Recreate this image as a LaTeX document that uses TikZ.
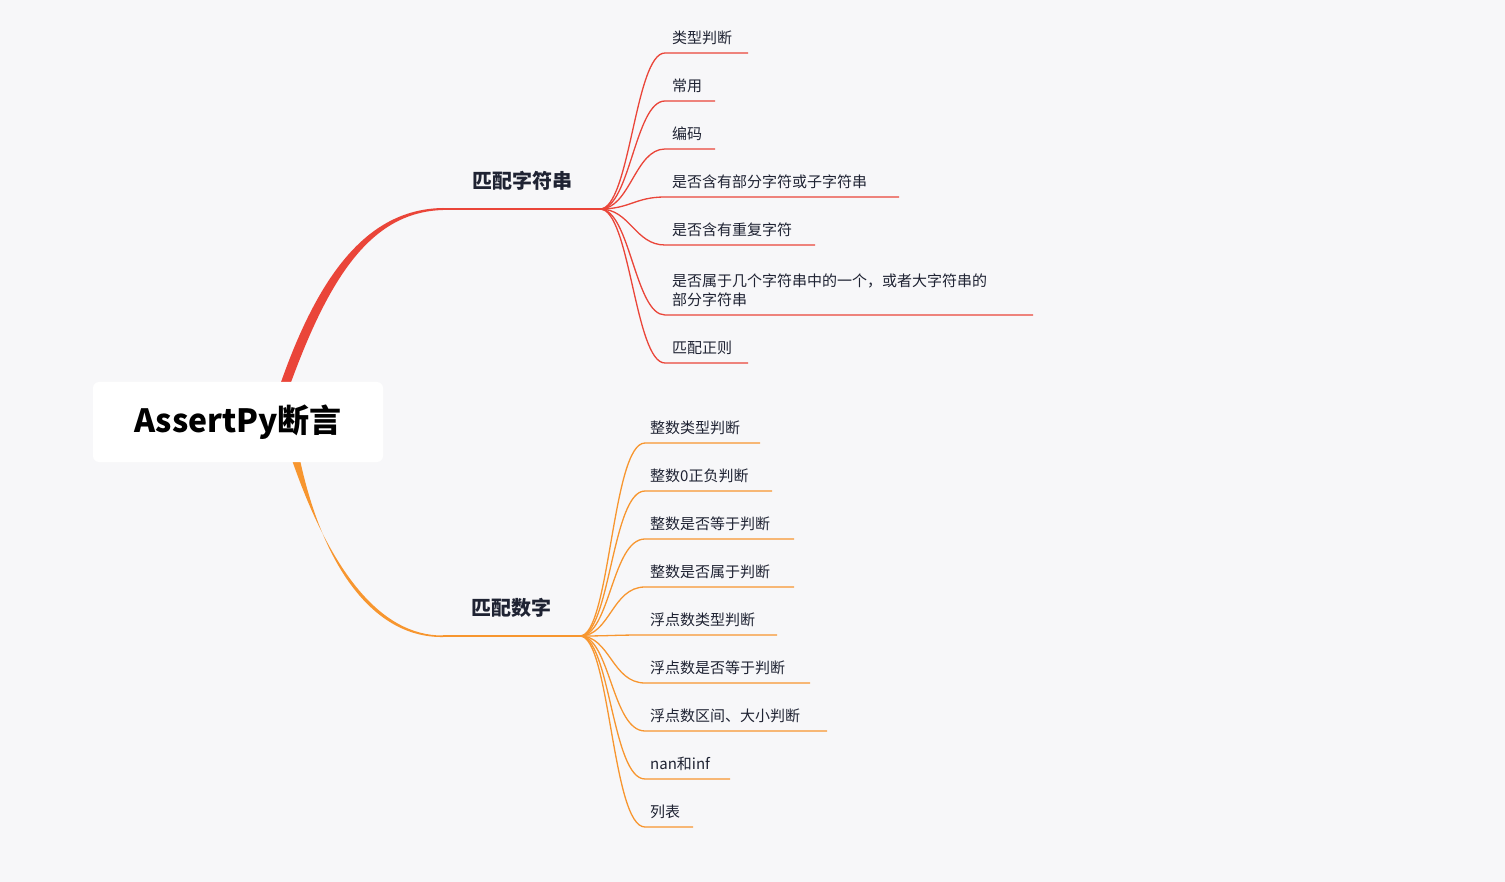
\documentclass[tikz,border=0pt]{standalone}
\usepackage{fontspec}
\setmainfont{Noto Sans CJK SC}
\definecolor{bg}{HTML}{F7F7F9}
\definecolor{rd}{HTML}{EA4539}
\definecolor{og}{HTML}{F7962F}
\definecolor{tx}{HTML}{1F2333}
\begin{document}
\begin{tikzpicture}[x=1pt,y=-1pt,
  leaf/.style={anchor=south west,inner sep=0pt,font=\fontsize{15}{19}\selectfont,text=tx,align=left},
  topic/.style={inner sep=0pt,font=\fontsize{20}{24}\selectfont\bfseries,text=tx}]
\fill[bg] (0,0) rectangle (1505,882);
\useasboundingbox (0,0) rectangle (1505,882);
% main branches
\fill[rd] (280,385) .. controls (320,270) and (370,209) .. (443,208) -- (443,210) .. controls (372,212) and (330,275) .. (290,385) -- cycle;
\fill[og] (292,460) .. controls (330,570) and (380,636) .. (443,635.5) -- (443,637) .. controls (378,638) and (325,575) .. (300,460) -- cycle;
\node[fill=white,rounded corners=6pt,minimum width=290pt,minimum height=80pt,font=\fontsize{32}{36}\selectfont\bfseries,text=black] (root) at (238,422) {AssertPy断言};
\coordinate (r0) at (443,209); \coordinate (r1) at (600,209);
\coordinate (o0) at (443,636); \coordinate (o1) at (580,636);
\draw[rd,line width=1.5pt] (r0) -- (r1);
\draw[og,line width=1.5pt] (o0) -- (o1);
\node[topic] (s) at (522,181) {匹配字符串};
\node[topic] (n) at (511,608) {匹配数字};
% red children
\foreach \y/\e/\t [count=\i] in {53/748/类型判断,101/715/常用,149/715/编码,197/899/是否含有部分字符或子字符串,245/815/是否含有重复字符,315/1033/{是否属于几个字符串中的一个，或者大字符串的\\部分字符串},363/748/匹配正则}{
  \coordinate (rc\i) at (\e,\y);
  \draw[rd,line width=1.3pt] (r1) .. controls (630,209) and (635,\y) .. (665,\y) -- (rc\i);
  \node[leaf] (rt\i) at (672,\y-8) {\t};
}
% orange children
\foreach \y/\e/\t [count=\i] in {443/760/整数类型判断,491/772/整数0正负判断,539/794/整数是否等于判断,587/794/整数是否属于判断,635/777/浮点数类型判断,683/810/浮点数是否等于判断,731/827/浮点数区间、大小判断,779/730/nan和inf,827/693/列表}{
  \coordinate (oc\i) at (\e,\y);
  \draw[og,line width=1.3pt] (o1) .. controls (610,636) and (612,\y) .. (645,\y) -- (oc\i);
  \node[leaf] (ot\i) at (650,\y-8) {\t};
}
\end{tikzpicture}
\end{document}
